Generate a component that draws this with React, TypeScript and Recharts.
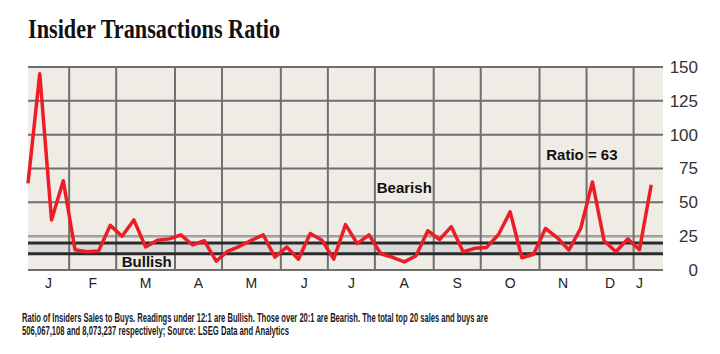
import React from "react";
import {
  LineChart,
  Line,
  XAxis,
  YAxis,
  CartesianGrid,
  ReferenceLine,
  ReferenceArea,
  ReferenceDot,
} from "recharts";

// weekly ratio of insider sales to buys
const ratio = [
  64, 145, 37, 66, 15, 13.5, 14, 33, 25, 37, 17, 22, 23, 26, 18.5, 21.6, 6.5, 14,
  17.5, 22, 26, 9.4, 17, 8, 27, 22, 8, 33.5, 19.5, 26, 12, 9.4, 6, 10.5, 29, 22.5,
  32, 13.5, 16, 16.7, 26, 43, 9, 11.6, 30.7, 24, 14.8, 30.7, 65, 21.4, 13.5, 23, 15, 63,
];

const months = ["J", "F", "M", "A", "M", "J", "J", "A", "S", "O", "N", "D", "J"];
const monthTicks = [1.75, 5.5, 10, 14.5, 19, 23.5, 27.5, 32, 36.5, 41, 45.5, 49.5, 52];
const monthEdges = [3.5, 7.5, 12.5, 16.5, 21.5, 25.5, 29.5, 34.5, 38.5, 43.5, 47.5, 51.5];
const yTicks = [0, 25, 50, 75, 100, 125, 150];

const bullishMax = 12;
const bearishMin = 20;

const data = ratio.map((v, i) => ({ i, v }));

const sans = "'Liberation Sans Narrow', 'Liberation Sans', Arial, sans-serif";
const bold = "'Liberation Sans', Arial, sans-serif";
const grid = "#6f6f6f";

// eslint-disable-next-line @typescript-eslint/no-explicit-any
const YTick = (props: any) => {
  const { x, y, payload } = props;
  return (
    <text x={x + 27} y={y} dy="0.35em" textAnchor="end" fontSize={17} fill="#333" fontFamily={sans}>
      {payload.value}
    </text>
  );
};

export default function App() {
  return (
    <div style={{ position: "absolute", left: 0, top: 0, width: 720, height: 354, background: "#fff" }}>
      <svg width={720} height={354} style={{ position: "absolute", left: 0, top: 0 }}>
        <text
          x={28}
          y={37.5}
          fontFamily="'Liberation Serif', serif"
          fontWeight={700}
          fontSize={28}
          fill="#111"
          textLength={252}
          lengthAdjust="spacingAndGlyphs"
        >
          Insider Transactions Ratio
        </text>
        <g transform="translate(22,321.5) scale(1,1.25)">
          <text x={0} y={0} fontFamily={sans} fontWeight={700} fontSize={10} fill="#1a1a1a" textLength={466} lengthAdjust="spacingAndGlyphs">
            Ratio of Insiders Sales to Buys. Readings under 12:1 are Bullish. Those over 20:1 are Bearish. The total top 20 sales and buys are
          </text>
        </g>
        <g transform="translate(22,334.5) scale(1,1.25)">
          <text x={0} y={0} fontFamily={sans} fontWeight={700} fontSize={10} fill="#1a1a1a" textLength={267} lengthAdjust="spacingAndGlyphs">
            506,067,108 and 8,073,237 respectively; Source: LSEG Data and Analytics
          </text>
        </g>
      </svg>
      <div style={{ position: "absolute", left: 0, top: 0 }}>
        <LineChart width={720} height={354} data={data} margin={{ top: 67, right: 0, bottom: 54, left: 28 }}>
          <CartesianGrid horizontal vertical={false} stroke={grid} strokeWidth={2} fill="#efece6" strokeOpacity={1} />
          <ReferenceLine y={25} stroke="#a3a3a3" strokeWidth={2} />
          <ReferenceArea y1={bullishMax} y2={bearishMin} fill="#d9d9d9" fillOpacity={1} stroke="none" />
          {monthEdges.map((m) => (
            <ReferenceLine key={m} x={m} stroke={grid} strokeWidth={2} />
          ))}
          <ReferenceLine y={bullishMax} stroke="#2b2b2b" strokeWidth={3} />
          <ReferenceLine y={bearishMin} stroke="#2b2b2b" strokeWidth={3} />
          <ReferenceLine y={0} stroke={grid} strokeWidth={2} />
          <XAxis
            dataKey="i"
            type="number"
            domain={[0, 54]}
            ticks={monthTicks}
            interval={0}
            tickFormatter={(_v: number, idx: number) => months[idx]}
            axisLine={false}
            tickLine={false}
            height={30}
            tick={{ fontSize: 14, fill: "#222", fontFamily: sans }}
          />
          <YAxis
            orientation="right"
            domain={[0, 150]}
            ticks={yTicks}
            axisLine={false}
            tickLine={false}
            width={57}
            tick={<YTick />}
          />
          <Line
            type="linear"
            dataKey="v"
            stroke="#ee1c24"
            strokeWidth={3.5}
            strokeLinejoin="round"
            dot={false}
            isAnimationActive={false}
          />
          <ReferenceDot
            x={32}
            y={60.7}
            r={0}
            fill="none"
            stroke="none"
            label={{ value: "Bearish", position: "center", fontSize: 15, fontWeight: 700, fill: "#111", fontFamily: bold }}
          />
          <ReferenceDot
            x={10.1}
            y={6.1}
            r={0}
            fill="none"
            stroke="none"
            label={{ value: "Bullish", position: "center", fontSize: 15, fontWeight: 700, fill: "#111", fontFamily: bold }}
          />
          <ReferenceDot
            x={47.1}
            y={85.4}
            r={0}
            fill="none"
            stroke="none"
            label={{ value: "Ratio = 63", position: "center", fontSize: 15, fontWeight: 700, fill: "#111", fontFamily: bold }}
          />
        </LineChart>
      </div>
    </div>
  );
}
